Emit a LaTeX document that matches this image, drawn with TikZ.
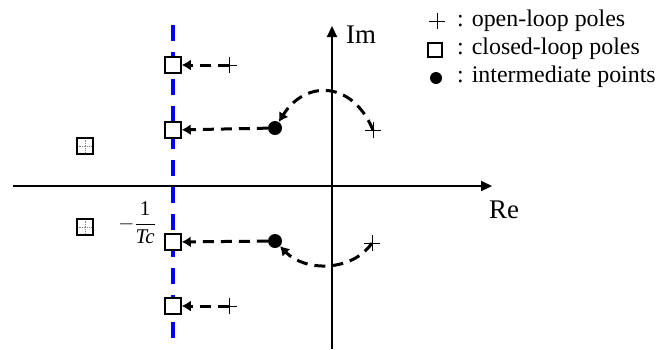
\documentclass[tikz,border=0pt]{standalone}
\usepackage{fontspec}
\setmainfont{Liberation Serif}
\usetikzlibrary{arrows.meta}
\begin{document}
\begin{tikzpicture}[x=1bp,y=-1bp,
  axis/.style={line width=2.2bp, -{Triangle[length=11bp,width=10bp]}},
  pole/.style={draw=black, line width=1.5bp, fill=white, minimum size=16bp, inner sep=0pt},
  gridpole/.style={draw=black, line width=1.4bp, fill=white, minimum size=16bp, inner sep=0pt,
    path picture={\draw[gray, line width=0.7bp, densely dotted] (path picture bounding box.north) -- (path picture bounding box.south) (path picture bounding box.west) -- (path picture bounding box.east);}},
  olpole/.style={minimum size=16bp, inner sep=0pt,
    path picture={\draw[line width=1bp] (path picture bounding box.north) -- (path picture bounding box.south) (path picture bounding box.west) -- (path picture bounding box.east);}},
  ipoint/.style={circle, fill=black, minimum size=14bp, inner sep=0pt},
  flow/.style={line width=3bp, dash pattern=on 11bp off 7bp, -{Latex[length=9bp,width=11bp]}},
  legtext/.style={anchor=west, inner sep=0pt, font=\fontsize{24}{28}\selectfont},
  axlabel/.style={inner sep=0pt, font=\fontsize{27}{30}\selectfont}
]
\useasboundingbox (0,0) rectangle (661,349);
% axes
\coordinate (rl) at (13,186);
\coordinate (rr) at (492,186);
\coordinate (ib) at (332,349);
\coordinate (it) at (332,26);
\draw[axis] (rl) -- (rr);
\draw[axis] (ib) -- (it);
\node[axlabel] (im) at (361,35) {Im};
\node[axlabel] (re) at (504,210) {Re};
% blue line
\coordinate (bt) at (173,25);
\coordinate (bb) at (173,349);
\draw[blue, line width=4bp, dash pattern=on 16bp off 11bp] (bt) -- (bb);
% closed-loop poles
\node[pole] (s1) at (173,65) {};
\node[pole] (s2) at (173,130) {};
\node[pole] (s3) at (173,242) {};
\node[pole] (s4) at (173,306) {};
% open-loop poles
\node[olpole] (p1) at (229,65) {};
\node[olpole] (p2) at (373,130) {};
\node[olpole] (p3) at (372,243) {};
\node[olpole] (p4) at (229,306) {};
% intermediate points
\node[ipoint] (d1) at (275,128) {};
\node[ipoint] (d2) at (275,241) {};
% grid squares
\node[gridpole] (g1) at (85,146) {};
\node[gridpole] (g2) at (85,227) {};
% label
\node[inner sep=0pt, font=\fontsize{21}{24}\selectfont] (tc) at (137,223) {$-\displaystyle\frac{\textrm{1}}{\textit{Tc}}$};
% arrows
\draw[flow] (p1.center) -- (s1);
\draw[flow] (d1) -- (s2);
\draw[flow] (d2) -- (s3);
\draw[flow] (p4.center) -- (s4);
\draw[flow] (p2.center) .. controls (352,80) and (305,80) .. (d1);
\draw[flow] (p3.center) .. controls (352,272) and (305,272) .. (d2);
% legend
\node[olpole] (lp) at (437,21) {};
\node[legtext] (lt1) at (457,21) {: open-loop poles};
\node[draw=black, line width=1.1bp, minimum size=14bp, inner sep=0pt] (ls) at (435,50) {};
\node[legtext] (lt2) at (457,49) {: closed-loop poles};
\node[circle, fill=black, minimum size=12bp, inner sep=0pt] (ld) at (436,78) {};
\node[legtext] (lt3) at (457,77) {: intermediate points};
\end{tikzpicture}
\end{document}
